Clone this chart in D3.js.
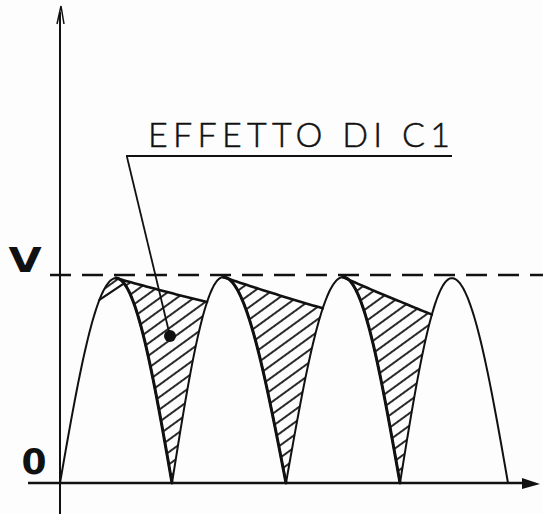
<!DOCTYPE html>
<html>
<head>
<meta charset="utf-8">
<script src="https://cdn.jsdelivr.net/npm/d3@7"></script>
<style>
body{margin:0;background:#fff}
</style>
</head>
<body>
<svg id="mySVG" width="543" height="514"></svg>
<script>
//---half-wave zero crossings and (hand drawn) peak positions, in half periods---
var zeroT = [0, 1, 2, 3, 4]
var peakT = [0.5, 1.45, 2.5, 3.48]
var peakV = [0.985, 0.99, 0.99, 0.985]
//---level where C1 discharge meets the next rising half-wave---
var rippleV = [0.87, 0.84, 0.81]
//---first half-wave: small chord near the peak---
var chordV = [0.88, 0.96]
var yTicks = [0, 1]
var yLabels = ["0", "V"]
var note = "EFFETTO DI C1"

var MySVG = d3.select("#mySVG")
MySVG.append("rect").attr("width", 543).attr("height", 514).attr("fill", "#fdfdfd")

var x = d3.scaleLinear().domain(zeroT).range([60, 172, 286, 400, 508])
var y = d3.scaleLinear().domain([0, 1]).range([483, 275])

var line = d3.line().x(function(d){return x(d[0])}).y(function(d){return y(d[1])})

//---value of half-wave i at time t---
function hump(i, t)
{
    var z0 = zeroT[i], z1 = zeroT[i+1], p = peakT[i]
    if (t <= p) return peakV[i]*Math.sin(Math.PI/2*(t-z0)/(p-z0))
    return peakV[i]*Math.sin(Math.PI/2*(z1-t)/(z1-p))
}
//---time on rising / falling side of hump i where value = v---
function riseT(i, v)
{
    return zeroT[i] + (peakT[i]-zeroT[i])*Math.asin(Math.min(1, v/peakV[i]))/(Math.PI/2)
}
function fallT(i, v)
{
    return zeroT[i+1] - (zeroT[i+1]-peakT[i])*Math.asin(Math.min(1, v/peakV[i]))/(Math.PI/2)
}
function samples(a, b, f, n)
{
    return d3.range(n+1).map(function(k){var t = a+(b-a)*k/n; return [t, f(t)]})
}

//---hatch pattern---
var defs = MySVG.append("defs")
defs.append("pattern")
    .attr("id", "hatch")
    .attr("patternUnits", "userSpaceOnUse")
    .attr("width", 20)
    .attr("height", 10)
    .attr("patternTransform", "rotate(-36)")
    .append("line")
    .attr("x1", 0).attr("y1", 5).attr("x2", 20).attr("y2", 5)
    .attr("stroke", "#111").attr("stroke-width", 1.8)

var G = MySVG.append("g").attr("fill", "none").attr("stroke", "#111")
    .attr("stroke-linecap", "round").attr("stroke-linejoin", "round")

//---C1 effect: hatched regions---
rippleV.forEach(function(rv, i)
{
    var p = peakT[i], v0 = peakV[i]
    var tEnd = riseT(i+1, rv)
    var k = Math.log(v0/rv)/(tEnd-p)
    var disc = samples(p, tEnd, function(t){return v0*Math.exp(-k*(t-p))}, 30)
    var rise = samples(tEnd, zeroT[i+1], function(t){return hump(i+1, t)}, 40)
    var fall = samples(zeroT[i+1], p, function(t){return hump(i, t)}, 40)
    var pts = disc.concat(rise, fall)
    G.append("path").attr("d", line(pts) + "Z")
        .attr("fill", "url(#hatch)").attr("stroke", "none")
    G.append("path").attr("d", line(disc)).attr("stroke-width", 2.6)
    G.append("path").attr("d", line(samples(p, zeroT[i+1], function(t){return hump(i, t)}, 60)))
        .attr("stroke-width", 3)
})

//---small chord region on first half-wave---
var cA = riseT(0, chordV[0]), cB = fallT(0, chordV[1])
var chordPts = samples(cA, cB, function(t){return hump(0, t)}, 30)
G.append("path").attr("d", line(chordPts.concat([[cA, chordV[0]]])) + "Z")
    .attr("fill", "url(#hatch)").attr("stroke", "none")
G.append("path").attr("d", line([[cA, chordV[0]], [cB, chordV[1]]])).attr("stroke-width", 2.2)

//---rectified sine---
zeroT.slice(0, -1).forEach(function(z, i)
{
    G.append("path")
        .attr("d", line(samples(z, zeroT[i+1], function(t){return hump(i, t)}, 80)))
        .attr("stroke-width", 2)
})

//---V level---
MySVG.append("line")
    .attr("x1", 50).attr("x2", 543)
    .attr("y1", y(1)).attr("y2", y(1))
    .attr("stroke", "#111").attr("stroke-width", 2.4)
    .attr("stroke-dasharray", "21,11")

//---axes---
MySVG.append("line").attr("x1", 60).attr("x2", 60).attr("y1", 514).attr("y2", 12)
    .attr("stroke", "#111").attr("stroke-width", 2)
MySVG.append("path").attr("d", "M57,24 L61,6 L64,24").attr("fill", "none")
    .attr("stroke", "#111").attr("stroke-width", 1.5)
MySVG.append("line").attr("x1", 28).attr("x2", 528).attr("y1", y(0)).attr("y2", y(0))
    .attr("stroke", "#111").attr("stroke-width", 2.4)
MySVG.append("path").attr("d", "M522,478 L540,484 L522,489 Z").attr("fill", "#111")

var labX = [34, 25]
var labDy = [-9, -3]
var labSize = [36, 33]
var labScaleX = [1, 1.3]
yTicks.forEach(function(v, i)
{
    MySVG.append("text")
        .attr("transform", "translate(" + labX[i] + "," + (y(v) + labDy[i]) + ") scale(" + labScaleX[i] + ",1)")
        .attr("text-anchor", "middle")
        .attr("font-family", "DejaVu Sans")
        .attr("font-weight", "bold")
        .attr("font-size", labSize[i])
        .attr("fill", "#111")
        .text(yLabels[i])
})

//---note with leader---
MySVG.append("text")
    .attr("x", 148).attr("y", 147)
    .attr("font-family", "Lato, 'Open Sans', sans-serif")
    .attr("font-weight", 300)
    .attr("font-size", 34)
    .attr("textLength", 302)
    .attr("lengthAdjust", "spacing")
    .attr("fill", "#111")
    .attr("stroke", "#111")
    .attr("stroke-width", 0.5)
    .text(note)
MySVG.append("line").attr("x1", 126).attr("x2", 452).attr("y1", 156).attr("y2", 156)
    .attr("stroke", "#111").attr("stroke-width", 2)
MySVG.append("line").attr("x1", 127).attr("x2", 170).attr("y1", 157).attr("y2", 336)
    .attr("stroke", "#111").attr("stroke-width", 1.8)
MySVG.append("circle").attr("cx", 170).attr("cy", 336).attr("r", 6).attr("fill", "#111")
</script>
</body>
</html>
